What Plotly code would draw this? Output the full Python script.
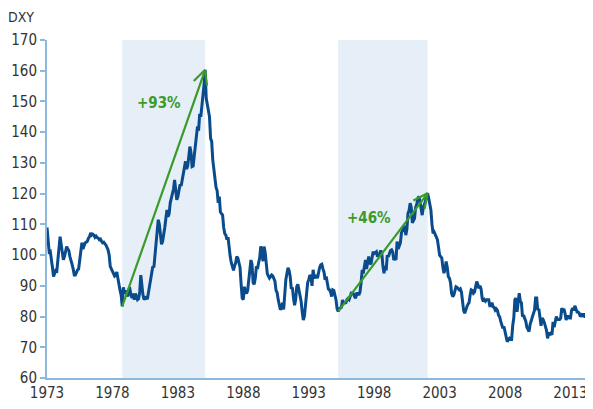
import math
import plotly.graph_objects as go

# Monthly DXY values, Jan 1973 .. Sep 2014
dxy_1973_1979 = [
    109.0, 103.5, 101.0, 101.2, 99.0, 96.0, 93.0, 94.5, 95.0, 94.8, 98.0, 101.5,   # 1973
    106.0, 103.5, 100.0, 98.5, 99.5, 101.0, 102.8, 102.0, 101.5, 99.5, 98.5, 97.0,  # 1974
    95.5, 93.5, 93.5, 94.5, 95.2, 95.5, 99.0, 102.5, 104.0, 102.0, 103.5, 104.0,    # 1975
    104.2, 104.5, 105.5, 106.0, 107.2, 106.5, 106.8, 106.5, 105.8, 106.2, 105.7, 105.5,  # 1976
    105.0, 105.2, 104.5, 104.0, 104.2, 103.8, 103.3, 102.5, 101.7, 100.0, 96.3, 95.5,    # 1977
    94.8, 94.2, 93.2, 93.5, 94.5, 92.5, 90.0, 88.5, 87.0, 83.3, 89.5, 87.5,        # 1978
    88.5, 87.5, 86.5, 88.8, 89.0, 87.0, 86.0, 87.5, 85.5, 87.5, 86.0, 85.5,        # 1979
]
dxy_1980_1989 = [
    85.8, 88.0, 93.5, 90.0, 87.0, 85.5, 86.0, 86.5, 85.6, 87.5, 90.5, 92.0,        # 1980
    94.5, 96.3, 96.0, 99.5, 104.5, 108.0, 111.5, 110.0, 106.0, 103.5, 104.5, 106.5,  # 1981
    109.0, 112.0, 114.7, 112.5, 113.5, 117.0, 118.5, 119.5, 121.5, 124.5, 122.0, 118.0,  # 1982
    119.0, 121.5, 123.0, 122.5, 124.5, 126.5, 129.5, 130.5, 128.0, 129.0, 132.0, 135.3,  # 1983
    133.5, 128.8, 129.0, 132.0, 136.0, 138.0, 141.9, 140.5, 146.0, 145.0, 148.0, 150.5,  # 1984
    155.5, 160.3, 151.0, 149.0, 147.5, 145.0, 138.0, 137.0, 131.0, 127.5, 124.5, 122.0,  # 1985
    121.0, 117.0, 119.0, 114.0, 113.5, 113.0, 109.0, 107.0, 106.5, 105.0, 105.8, 101.5,  # 1986
    99.5, 97.5, 96.2, 95.0, 96.5, 97.5, 99.5, 99.0, 97.5, 96.0, 90.5, 86.0,        # 1987
    85.5, 89.7, 88.0, 87.5, 88.5, 92.0, 96.0, 98.4, 97.0, 91.0, 90.5, 92.5,        # 1988
    96.3, 95.5, 97.5, 99.0, 102.8, 101.5, 98.0, 102.8, 101.0, 96.5, 94.0, 93.2,    # 1989
]
dxy_1990_1999 = [
    92.5, 93.0, 93.5, 93.2, 92.0, 91.5, 88.5, 87.8, 85.5, 83.0, 82.2, 82.8,        # 1990
    84.5, 82.3, 89.0, 92.0, 94.0, 95.9, 95.0, 93.0, 89.0, 89.5, 86.0, 83.7,        # 1991
    85.5, 89.7, 90.5, 89.0, 87.5, 85.0, 81.5, 78.9, 80.0, 84.0, 89.0, 91.0,        # 1992
    92.0, 93.5, 93.0, 90.0, 95.2, 93.0, 92.5, 93.5, 92.5, 94.5, 96.0, 96.8,        # 1993
    97.0, 95.5, 94.5, 92.0, 93.0, 91.0, 89.0, 88.7, 88.0, 86.5, 88.7, 88.5,        # 1994
    87.0, 85.5, 82.5, 81.7, 82.5, 82.8, 83.0, 85.4, 84.5, 84.4, 84.5, 85.5,        # 1995
    85.9, 85.5, 87.0, 87.6, 87.5, 87.4, 86.5, 86.0, 87.5, 87.5, 87.0, 88.0,        # 1996
    91.0, 95.2, 94.0, 96.5, 98.4, 95.5, 97.0, 99.5, 97.5, 97.0, 99.0, 101.1,       # 1997
    100.5, 101.0, 101.1, 99.5, 100.0, 100.5, 101.5, 100.5, 96.5, 94.1, 96.5, 95.0, # 1998
    100.0, 99.5, 100.5, 101.5, 101.7, 101.0, 98.4, 99.0, 98.4, 104.4, 102.0, 103.0, # 1999
]
dxy_2000_2014 = [
    104.0, 107.2, 108.2, 109.0, 109.5, 106.5, 108.5, 113.6, 114.5, 116.9, 115.5, 110.5,  # 2000
    111.5, 112.0, 115.5, 116.5, 118.5, 119.1, 117.5, 114.5, 113.0, 115.4, 116.5, 117.5,  # 2001
    119.5, 120.1, 118.5, 116.0, 114.7, 110.0, 107.1, 107.5, 106.5, 106.0, 105.0, 102.5,  # 2002
    100.0, 99.5, 99.0, 96.0, 94.1, 95.5, 97.9, 96.0, 93.0, 92.5, 91.0, 87.5,       # 2003
    86.5, 87.0, 88.5, 89.7, 89.5, 89.0, 88.7, 89.0, 88.0, 85.0, 82.0, 81.1,        # 2004
    82.5, 83.2, 84.0, 84.5, 87.0, 88.7, 88.5, 87.6, 88.0, 90.0, 91.4, 90.5,        # 2005
    89.2, 90.0, 89.0, 86.0, 84.9, 85.5, 85.0, 85.5, 85.4, 85.5, 83.5, 83.5,        # 2006
    84.5, 83.2, 83.0, 82.1, 82.5, 82.0, 80.5, 80.0, 78.5, 77.0, 76.2, 76.7,        # 2007
    75.0, 73.5, 71.8, 72.5, 72.9, 72.5, 72.5, 77.0, 79.5, 85.5, 86.0, 81.5,        # 2008
    84.5, 87.6, 85.0, 84.5, 80.0, 80.5, 79.4, 78.5, 76.5, 75.5, 75.1, 77.5,        # 2009
    79.0, 80.5, 81.0, 82.0, 86.0, 86.0, 82.1, 82.5, 79.4, 77.0, 79.5, 79.0,        # 2010
    78.0, 76.5, 75.5, 72.9, 74.5, 74.3, 74.6, 74.0, 78.3, 76.5, 78.5, 80.0,        # 2011
    79.0, 79.0, 79.0, 79.5, 82.7, 82.0, 82.5, 81.0, 78.9, 80.0, 80.0, 79.5,        # 2012
    79.5, 82.0, 82.7, 82.0, 83.5, 82.5, 81.5, 81.5, 81.1, 80.0, 80.5, 80.0,        # 2013
    81.0, 80.0, 80.0, 79.5, 80.5, 80.0, 81.5, 84.5, 85.8,                          # 2014
]

start_year = 1973
end_year = 2014.72
y_min, y_max = 60, 170
tick_years = [1973, 1978, 1983, 1988, 1993, 1998, 2003, 2008, 2013]
y_ticks = [60, 70, 80, 90, 100, 110, 120, 130, 140, 150, 160, 170]

# Dollar rally episodes: (trough month, peak month, label)
rallies = [
    ("1978-10", "1985-02", "+93%"),
    ("1995-04", "2002-02", "+46%"),
]
label_pos = [(1981.57, 149.5), (1997.64, 112.0)]

values = dxy_1973_1979 + dxy_1980_1989 + dxy_1990_1999 + dxy_2000_2014
x = [start_year + i / 12 for i in range(len(values))]

W, H = 593, 409
M = dict(l=39, r=8, t=32, b=39)   # page body has an 8px default margin
sx = (W - M["l"] - M["r"]) / (end_year - start_year)   # px per year
sy = (H - M["t"] - M["b"]) / (y_max - y_min)          # px per index point


def month_to_x(s):
    yy, mm = s.split("-")
    return int(yy) + (int(mm) - 1) / 12


def value_at(xv):
    i = round((xv - start_year) * 12)
    return values[i]


BLUE = "#0a4b8c"
GREEN = "#3a9a2a"
AXIS = "#8db8de"
SHADE = "#e6eef8"
TEXT = "#333333"
FONT = "'Liberation Sans Narrow', 'DejaVu Sans Condensed', 'Arial Narrow', 'Liberation Sans', Arial, sans-serif"
HEAD_LEN = 16      # px
HEAD_ANG = 26      # degrees

fig = go.Figure()
fig.add_trace(go.Scatter(x=x, y=values, mode="lines",
                         line=dict(color=BLUE, width=3), hoverinfo="skip"))

shapes = []
annotations = []
for (t, p, lab), (lx, ly) in zip(rallies, label_pos):
    x0, x1 = month_to_x(t), month_to_x(p)
    y0, y1 = value_at(x0), value_at(x1)
    shapes.append(dict(type="rect", xref="x", yref="paper", x0=x0, x1=x1,
                       y0=0, y1=1, fillcolor=SHADE, line=dict(width=0),
                       layer="below"))
    arrow_line = dict(color=GREEN, width=2.2)
    shapes.append(dict(type="line", xref="x", yref="y", x0=x0, y0=y0,
                       x1=x1, y1=y1, line=arrow_line, layer="above"))
    # open arrowhead at the peak, built in pixel space
    dxp, dyp = (x0 - x1) * sx, (y0 - y1) * sy
    n = math.hypot(dxp, dyp)
    ux, uy = dxp / n, dyp / n
    for sgn in (1, -1):
        a = math.radians(HEAD_ANG * sgn)
        rx = ux * math.cos(a) - uy * math.sin(a)
        ry = ux * math.sin(a) + uy * math.cos(a)
        shapes.append(dict(type="line", xref="x", yref="y", x0=x1, y0=y1,
                           x1=x1 + rx * HEAD_LEN / sx,
                           y1=y1 + ry * HEAD_LEN / sy,
                           line=arrow_line, layer="above"))
    annotations.append(dict(x=lx, y=ly, xref="x", yref="y", text=lab,
                            showarrow=False,
                            font=dict(family=FONT, size=15, color=GREEN,
                                      weight="bold")))

fig.update_layout(
    width=W, height=H,
    margin=dict(**M, autoexpand=False),
    paper_bgcolor="white", plot_bgcolor="white",
    showlegend=False,
    shapes=shapes,
    annotations=annotations,
    title=dict(text="DXY", x=0, xanchor="left", xref="container",
               y=1 - 9 / H, yanchor="middle", yref="container",
               font=dict(family=FONT, size=14, color=TEXT)),
    font=dict(family=FONT, size=15, color=TEXT),
    xaxis=dict(range=[start_year, end_year], tickvals=tick_years,
               ticktext=[str(v) for v in tick_years], showgrid=False,
               zeroline=False, showline=True, linecolor=AXIS, linewidth=2,
               ticks="", automargin=False,
               tickfont=dict(family=FONT, size=15, color=TEXT)),
    yaxis=dict(range=[y_min, y_max], tickvals=y_ticks, showgrid=False,
               zeroline=False, showline=True, linecolor=AXIS, linewidth=2,
               ticks="outside", ticklen=5, tickwidth=1.5, tickcolor=AXIS,
               automargin=False,
               tickfont=dict(family=FONT, size=15, color=TEXT)),
)

fig.write_html("out.html")
